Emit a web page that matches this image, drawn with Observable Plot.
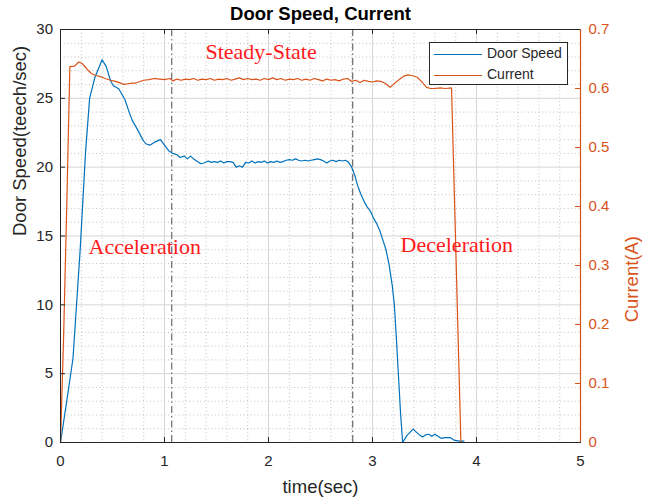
<!DOCTYPE html>
<html>
<head>
<meta charset="utf-8">
<script src="https://cdn.jsdelivr.net/npm/d3@7"></script>
<script src="https://cdn.jsdelivr.net/npm/@observablehq/plot@0.6"></script>
<style>
  html, body { margin: 0; padding: 0; background: #fff; }
  #wrap { position: relative; width: 653px; height: 501px; }
  #legend { position: absolute; left: 429px; top: 42px; width: 137px; height: 41px;
            border: 1.3px solid #262626; background: #fff;
            font: 14px "Liberation Sans", Arial, sans-serif; color: #262626; }
  #legend .row { position: absolute; left: 0; height: 20px; }
  #legend .sw { position: absolute; left: 4px; width: 48px; height: 0; border-top: 1.2px solid; }
  #legend .lab { position: absolute; left: 57px; top: -9px; white-space: nowrap; }
</style>
</head>
<body>
<div id="wrap"></div>
<script>
// ---- data ----
const speedT = [0,0.06,0.12,0.19,0.24,0.28,0.33,0.40,0.44,0.48,0.51,0.56,0.62,0.66,0.69,0.72,0.75,0.79,0.82,0.86,0.90,0.96,1.00,1.04,1.08,1.12,1.15,1.19,1.22,1.25,1.28,1.32,1.35,1.38,1.42,1.45,1.48,1.51,1.54,1.57,1.60,1.63,1.66,1.69,1.72,1.75,1.78,1.81,1.84,1.87,1.90,1.93,1.96,1.99,2.02,2.05,2.08,2.11,2.14,2.17,2.20,2.23,2.26,2.29,2.32,2.35,2.38,2.41,2.44,2.47,2.50,2.53,2.56,2.59,2.62,2.65,2.68,2.71,2.74,2.77,2.80,2.83,2.86,2.89,2.92,2.95,2.98,3.01,3.04,3.07,3.10,3.13,3.16,3.19,3.21,3.23,3.25,3.27,3.29,3.33,3.39,3.43,3.46,3.48,3.51,3.54,3.57,3.60,3.63,3.66,3.70,3.75,3.79,3.84,3.88];
const speedV = [0,3,6.1,14.1,21,25.0,26.5,27.8,27.3,26.3,25.9,25.7,24.9,24.0,23.4,23.0,22.6,22.0,21.7,21.6,21.8,22.0,21.6,21.2,21.0,20.9,20.7,20.8,20.6,20.8,20.6,20.4,20.25,20.3,20.45,20.35,20.4,20.35,20.45,20.3,20.4,20.4,20.35,20.0,20.1,20.0,20.35,20.3,20.45,20.3,20.4,20.35,20.45,20.3,20.4,20.35,20.45,20.35,20.4,20.5,20.55,20.5,20.6,20.5,20.45,20.5,20.45,20.5,20.55,20.6,20.55,20.45,20.3,20.45,20.5,20.4,20.5,20.45,20.5,20.35,20.0,19.4,18.6,18.0,17.5,17.1,16.8,16.3,15.9,15.4,14.7,14.0,12.9,11.4,10.0,7.5,4.8,2.1,0,0.5,0.97,0.7,0.5,0.4,0.55,0.6,0.45,0.6,0.45,0.3,0.35,0.35,0.15,0.1,0.1];

const currentT = [0,0.03,0.06,0.09,0.135,0.176,0.21,0.24,0.27,0.30,0.34,0.385,0.43,0.48,0.53,0.58,0.61,0.65,0.69,0.72,0.75,0.80,0.85,0.90,0.95,1.00,1.05,1.08,1.12,1.16,1.20,1.24,1.28,1.32,1.36,1.40,1.44,1.48,1.52,1.56,1.60,1.64,1.68,1.72,1.76,1.80,1.84,1.88,1.92,1.96,2.00,2.04,2.08,2.12,2.16,2.20,2.24,2.28,2.32,2.36,2.40,2.44,2.48,2.52,2.56,2.60,2.64,2.68,2.72,2.76,2.80,2.84,2.88,2.92,2.96,3.00,3.04,3.08,3.12,3.17,3.22,3.27,3.30,3.34,3.38,3.43,3.47,3.52,3.56,3.60,3.65,3.70,3.76,3.85,5.0];
const currentA = [0,0.18,0.40,0.637,0.638,0.645,0.642,0.636,0.630,0.625,0.622,0.620,0.617,0.614,0.612,0.609,0.607,0.608,0.609,0.609,0.611,0.614,0.615,0.617,0.616,0.615,0.617,0.613,0.616,0.614,0.616,0.615,0.617,0.614,0.616,0.615,0.617,0.614,0.616,0.615,0.617,0.614,0.616,0.618,0.615,0.617,0.615,0.616,0.614,0.617,0.615,0.618,0.615,0.617,0.614,0.616,0.615,0.617,0.614,0.616,0.614,0.617,0.615,0.613,0.616,0.614,0.615,0.613,0.616,0.617,0.612,0.614,0.610,0.614,0.612,0.611,0.613,0.612,0.609,0.602,0.610,0.617,0.621,0.623,0.622,0.619,0.612,0.602,0.600,0.600,0.601,0.600,0.601,0,0];

const xTicks = [0,1,2,3,4,5];
const yTicks = [0,5,10,15,20,25,30];
const rightTicks = [0,0.1,0.2,0.3,0.4,0.5,0.6,0.7];
const phaseLines = [1.07, 2.81];
const annotations = [
  {t: 1.394, v: 27.85, text: "Steady-State"},
  {t: 0.27, v: 13.7, text: "Acceleration"},
  {t: 3.27, v: 13.85, text: "Deceleration"}
];
const titleText = "Door Speed, Current";
const xLabel = "time(sec)";
const yLabelLeft = "Door Speed(teech/sec)";
const yLabelRight = "Current(A)";

// ---- derived ----
const yMax = 30, cMax = 0.7, k = yMax / cMax;
const speed = speedT.map((t, i) => ({t, v: speedV[i]}));
const current = currentT.map((t, i) => ({t, v: currentA[i] * k}));
const minorX = d3.range(0, 5.001, 0.2).map(d => +d.toFixed(2)).filter(d => Math.abs(d - Math.round(d)) > 1e-6);
const minorY = d3.range(1, 30).filter(d => d % 5 !== 0);
const BLUE = "#0072BD", ORANGE = "#D95319", AX = "#262626";
const W = 653, H = 501, mL = 60, mR = 73, mT = 29, mB = 59;
const pxX = 5 / (W - mL - mR), pxY = 30 / (H - mT - mB);
const tl = 5; // tick length px

const chart = Plot.plot({
  width: W, height: H,
  marginLeft: mL, marginRight: mR, marginTop: mT, marginBottom: mB,
  x: {domain: [0, 5], axis: null},
  y: {domain: [0, yMax], axis: null},
  style: {fontFamily: '"Liberation Sans", Arial, sans-serif', fontSize: "15px", background: "#fff", overflow: "visible"},
  marks: [
    Plot.ruleX(minorX, {x: d => d, stroke: "#9a9a9a", strokeOpacity: 0.6, strokeDasharray: "1,2.6"}),
    Plot.ruleY(minorY, {y: d => d, stroke: "#9a9a9a", strokeOpacity: 0.6, strokeDasharray: "1,2.6"}),
    Plot.ruleX(xTicks.slice(1, -1), {x: d => d, stroke: "#d6d6d6"}),
    Plot.ruleY(yTicks.slice(1, -1), {y: d => d, stroke: "#d6d6d6"}),
    Plot.ruleX(phaseLines, {x: d => d, stroke: "#4d4d4d", strokeWidth: 1, strokeDasharray: "7,3,1.5,3"}),
    Plot.line(speed, {x: "t", y: "v", stroke: BLUE, strokeWidth: 1.2}),
    Plot.line(current, {x: "t", y: "v", stroke: ORANGE, strokeWidth: 1.2}),
    Plot.frame({stroke: AX, strokeWidth: 1}),
    Plot.ruleX([5], {x: d => d, stroke: ORANGE, strokeWidth: 1.2}),
    // inward ticks
    Plot.ruleX(xTicks.slice(1, -1), {x: d => d, y1: 0, y2: tl * pxY, stroke: AX}),
    Plot.ruleX(xTicks.slice(1, -1), {x: d => d, y1: yMax, y2: yMax - tl * pxY, stroke: AX}),
    Plot.ruleY(yTicks.slice(1, -1), {y: d => d, x1: 0, x2: tl * pxX, stroke: AX}),
    Plot.ruleY(rightTicks.slice(1, -1), {y: d => d * k, x1: 5 - tl * pxX, x2: 5, stroke: ORANGE}),
    // tick labels
    Plot.text(xTicks, {x: d => d, text: d => String(d), frameAnchor: "bottom", lineAnchor: "middle", dy: 19, fill: AX, fontSize: 15}),
    Plot.text(yTicks, {y: d => d, text: d => String(d), frameAnchor: "left", lineAnchor: "middle", dx: -7.5, textAnchor: "end", fill: AX, fontSize: 15}),
    Plot.text(rightTicks, {y: d => d * k, text: d => d === 0 ? "0" : d.toFixed(1), frameAnchor: "right", lineAnchor: "middle", dx: 8, textAnchor: "start", fill: ORANGE, fontSize: 15}),
    // axis labels and title
    Plot.text([xLabel], {text: d => d, frameAnchor: "bottom", lineAnchor: "middle", dy: 45, fill: AX, fontSize: 18.5}),
    Plot.text([yLabelLeft], {text: d => d, frameAnchor: "left", lineAnchor: "middle", dx: -40, rotate: -90, fill: AX, fontSize: 18.5}),
    Plot.text([yLabelRight], {text: d => d, frameAnchor: "right", lineAnchor: "middle", dx: 52, rotate: -90, fill: ORANGE, fontSize: 18.5}),
    Plot.text([titleText], {text: d => d, frameAnchor: "top", lineAnchor: "middle", dy: -15, fill: "#000", fontSize: 18.5, fontWeight: "bold"}),
    // annotations
    Plot.text(annotations, {x: "t", y: "v", text: "text", textAnchor: "start", lineAnchor: "bottom", fill: "#ff1a1a", fontSize: 22, fontFamily: '"Liberation Serif", "Times New Roman", serif'})
  ]
});
const wrap = document.getElementById("wrap");
wrap.appendChild(chart);

const legend = document.createElement("div");
legend.id = "legend";
[["Door Speed", BLUE, 11], ["Current", ORANGE, 32]].forEach(([name, col, y]) => {
  const row = document.createElement("div");
  row.className = "row"; row.style.top = y + "px";
  const sw = document.createElement("div"); sw.className = "sw"; sw.style.borderTopColor = col;
  const lab = document.createElement("div"); lab.className = "lab"; lab.textContent = name;
  row.appendChild(sw); row.appendChild(lab); legend.appendChild(row);
});
wrap.appendChild(legend);
</script>
</body>
</html>
